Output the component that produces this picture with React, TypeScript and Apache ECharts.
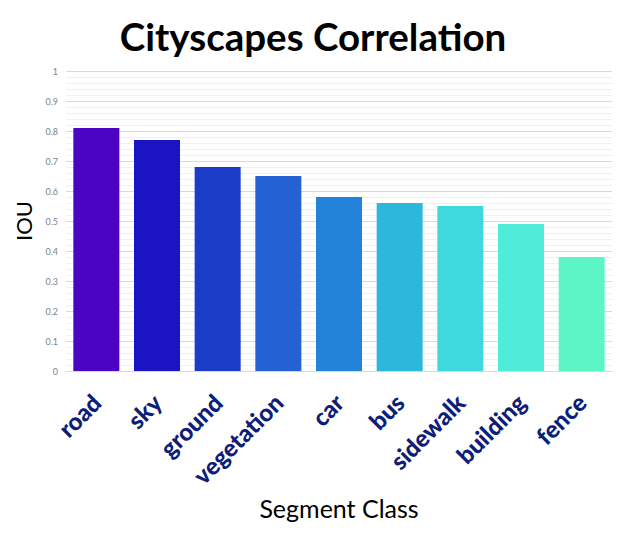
import React, { useEffect, useRef } from "react";
import * as echarts from "echarts";

const categories = ["road", "sky", "ground", "vegetation", "car", "bus", "sidewalk", "building", "fence"];
const iouValues = [0.81, 0.77, 0.68, 0.65, 0.58, 0.56, 0.55, 0.49, 0.38];
const barColors = ["#4B03C4", "#1B14C4", "#1A3CC6", "#2461D2", "#2383D8", "#2EB7DD", "#3DD9DF", "#4FEDD9", "#5DF5C3"];

export default function App() {
  const ref = useRef<HTMLDivElement>(null);
  useEffect(() => {
    document.body.style.margin = "0";
    const chart = echarts.init(ref.current!, null, { renderer: "svg" });
    chart.setOption({
      animation: false,
      backgroundColor: "#ffffff",
      title: {
        text: "Cityscapes Correlation",
        left: 308,
        textAlign: "center",
        top: 11,
        textStyle: { fontFamily: "Lato", fontWeight: "bold", fontSize: 38.5, color: "#000" },
      },
      grid: { left: 66, right: 11, top: 71, bottom: 166 },
      xAxis: {
        type: "category",
        data: categories,
        name: "Segment Class",
        nameLocation: "middle",
        nameGap: 124,
        nameTextStyle: { fontFamily: "Lato", fontSize: 25, color: "#000" },
        axisLine: { lineStyle: { color: "#d9d9d9" } },
        axisTick: { show: false },
        axisLabel: {
          rotate: 45,
          interval: 0,
          margin: 27,
          fontFamily: "Lato",
          fontWeight: 900,
          fontSize: 24,
          color: "#0C1E7A",
        },
      },
      yAxis: {
        type: "value",
        min: 0,
        max: 1,
        interval: 0.1,
        name: "IOU",
        nameLocation: "middle",
        nameGap: 30,
        nameTextStyle: { fontFamily: "Lato", fontSize: 22, color: "#000" },
        axisLine: { show: false },
        axisTick: { show: false },
        axisLabel: {
          fontFamily: "Lato",
          fontSize: 9,
          color: "#7f7f7f",
          margin: 8,
          formatter: (v: number) => String(Math.round(v * 10) / 10),
        },
        splitLine: { lineStyle: { color: "#d9d9d9", width: 1 } },
        minorTick: { show: false, splitNumber: 5 },
        minorSplitLine: { show: true, lineStyle: { color: "#f0f0f0", width: 1 } },
      },
      series: [
        {
          type: "bar",
          data: iouValues.map((v, i) => ({ value: v, itemStyle: { color: barColors[i] } })),
          barWidth: 46,
        },
      ],
    });
    return () => chart.dispose();
  }, []);
  return <div ref={ref} style={{ width: 623, height: 537 }} />;
}
